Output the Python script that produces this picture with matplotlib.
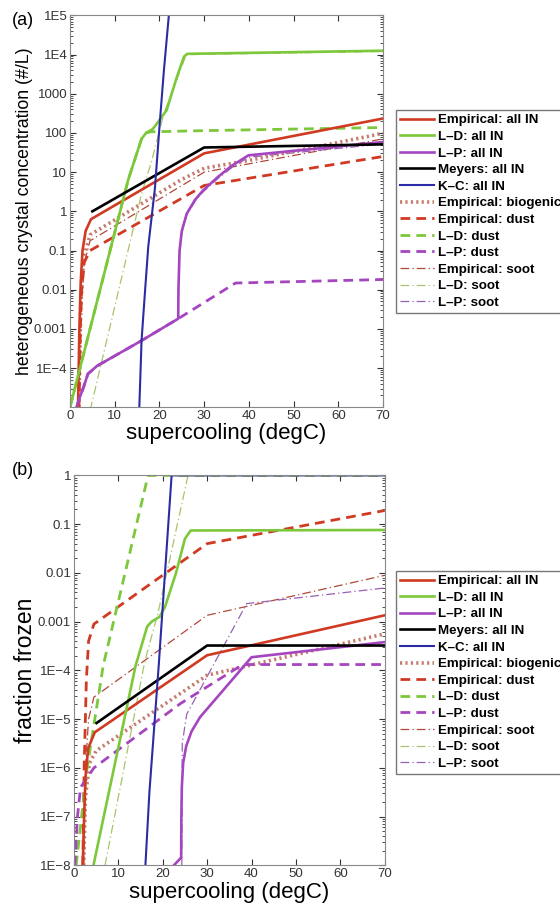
import matplotlib.pyplot as plt
import numpy as np
from matplotlib.ticker import LogLocator, NullFormatter, FixedLocator

plt.rcParams['font.family'] = ['Liberation Sans', 'DejaVu Sans']

## panel (a): ice crystal concentration, values stored as log10(#/L)
a_emp_all_x = [1.8, 2.1, 2.4, 2.8, 3.5, 4.7, 30, 70]
a_emp_all_y = [-5, -3, -1.8, -1.0, -0.5, -0.2, 1.48, 2.37]
a_ld_all_x = [0, 13, 16, 17, 18.5, 19.5, 21.6, 23.9, 25.5, 26.2, 70]
a_ld_all_y = [-5, 0.8, 1.85, 2.0, 2.1, 2.25, 2.58, 3.43, 3.95, 4.02, 4.1]
a_lp_all_x = [1.5, 2, 3, 4, 6, 16, 24.2, 24.25, 24.5, 25, 26.1, 28, 29.8, 33, 36, 39.9, 70]
a_lp_all_y = [-5, -4.8, -4.5, -4.15, -3.95, -3.3, -2.74, -2.0, -1.0, -0.5, -0.06, 0.3, 0.54, 0.87, 1.15, 1.43, 1.77]
a_mey_x = [5, 30, 70]
a_mey_y = [0.0, 1.63, 1.71]
a_kc_x = [15.5, 16.0, 16.8, 17.5, 19.0, 20.0, 21, 22.1]
a_kc_y = [-5, -3.3, -2, -0.9, 0.6, 2.15, 3.6, 5.0]
a_emp_bio_x = [2.0, 2.4, 3, 4.5, 24.6, 30, 40, 70]
a_emp_bio_y = [-5, -2.5, -1.2, -0.6, 0.79, 1.1, 1.3, 1.99]
a_emp_dust_x = [2.0, 2.3, 2.6, 3.2, 4.5, 30, 70]
a_emp_dust_y = [-5, -3, -2, -1.3, -1.0, 0.66, 1.40]
a_ld_dust_x = [0, 13, 16, 17, 18, 30, 70]
a_ld_dust_y = [-5, 0.8, 1.85, 2.0, 2.03, 2.06, 2.14]
a_lp_dust_x = [1.5, 2, 3, 4, 6, 16, 24.2, 37, 70]
a_lp_dust_y = [-5, -4.8, -4.5, -4.15, -3.95, -3.3, -2.74, -1.83, -1.74]
a_emp_soot_x = [2.1, 2.5, 3.2, 4.5, 30, 70]
a_emp_soot_y = [-5, -2.5, -1.3, -0.75, 1.0, 1.85]
a_ld_soot_x = [4.5, 16, 18.3, 21, 26, 70]
a_ld_soot_y = [-5.08, 0.45, 1.3, 2.5, 4.0, 4.08]
a_lp_soot_x = [24.2, 24.25, 24.5, 25, 26.1, 28, 29.8, 33, 36, 39.9, 70]
a_lp_soot_y = [-2.74, -2.1, -1.05, -0.55, -0.1, 0.27, 0.5, 0.83, 1.1, 1.38, 1.72]

## panel (b): fraction frozen, values stored as log10(fraction)
b_emp_all_x = [2.0, 2.3, 2.6, 3.2, 4.7, 30, 70]
b_emp_all_y = [-8, -7, -6.2, -5.6, -5.27, -3.69, -2.87]
b_ld_all_x = [4.4, 13.9, 16.5, 17.5, 19.3, 20.5, 23, 25, 26.3, 70]
b_ld_all_y = [-8, -3.9, -3.1, -3.0, -2.9, -2.7, -2.0, -1.3, -1.13, -1.12]
b_lp_all_x = [22, 24.15, 24.2, 24.3, 24.6, 25.3, 26.5, 28.4, 40, 70]
b_lp_all_y = [-8.05, -7.84, -7, -6.4, -5.9, -5.55, -5.25, -4.96, -3.73, -3.42]
b_mey_x = [5.1, 30, 70]
b_mey_y = [-5.08, -3.49, -3.49]
b_kc_x = [16.1, 17, 19.1, 22, 70]
b_kc_y = [-8, -6.5, -3.9, 0, 0]
b_emp_bio_x = [2.2, 2.6, 3.5, 5, 30, 70]
b_emp_bio_y = [-8, -6.6, -5.9, -5.65, -4.1, -3.25]
b_emp_dust_x = [2.0, 2.3, 2.8, 3.3, 4.5, 30, 70]
b_emp_dust_y = [-8, -6, -4.2, -3.4, -3.05, -1.40, -0.72]
b_ld_dust_x = [0.5, 2.9, 6.6, 16.7, 70]
b_ld_dust_y = [-8, -6.05, -3.9, 0, 0]
b_lp_dust_x = [0.2, 0.8, 1.5, 4.5, 24, 38, 70]
b_lp_dust_y = [-8, -7, -6.4, -6.0, -4.68, -3.88, -3.88]
b_emp_soot_x = [2.2, 2.6, 3.3, 4.5, 30, 70]
b_emp_soot_y = [-8, -6, -5, -4.55, -2.87, -2.05]
b_ld_soot_x = [7, 16, 19, 25.7, 70]
b_ld_soot_y = [-8, -3.8, -2.8, 0, 0]
b_lp_soot_x = [24.3, 24.4, 25.4, 38.9, 70]
b_lp_soot_y = [-8, -5.5, -4.9, -2.63, -2.31]

labels = ['Empirical: all IN', 'L\u2013D: all IN', 'L\u2013P: all IN', 'Meyers: all IN',
          'K\u2013C: all IN', 'Empirical: biogenic', 'Empirical: dust', 'L\u2013D: dust',
          'L\u2013P: dust', 'Empirical: soot', 'L\u2013D: soot', 'L\u2013P: soot']

red = '#d03a22'
green = '#7cc83a'
purple = '#a545c0'
blue = '#2b2ba6'
styles = [
    dict(color=red, lw=1.9, ls='-'),
    dict(color=green, lw=1.9, ls='-'),
    dict(color=purple, lw=1.9, ls='-'),
    dict(color='black', lw=1.9, ls='-'),
    dict(color=blue, lw=1.5, ls='-'),
    dict(color='#c77a6e', lw=2.6, ls=(0, (0.6, 0.9))),
    dict(color=red, lw=2.0, ls=(0, (3.5, 2.2))),
    dict(color=green, lw=2.0, ls=(0, (3.5, 2.2))),
    dict(color=purple, lw=2.0, ls=(0, (3.5, 2.2))),
    dict(color='#b0483a', lw=0.9, ls=(0, (7, 2.5, 1, 2.5))),
    dict(color='#a8c46a', lw=0.9, ls=(0, (7, 2.5, 1, 2.5))),
    dict(color='#9560b5', lw=0.9, ls=(0, (7, 2.5, 1, 2.5))),
]

series_a = [(a_emp_all_x, a_emp_all_y), (a_ld_all_x, a_ld_all_y), (a_lp_all_x, a_lp_all_y),
            (a_mey_x, a_mey_y), (a_kc_x, a_kc_y), (a_emp_bio_x, a_emp_bio_y),
            (a_emp_dust_x, a_emp_dust_y), (a_ld_dust_x, a_ld_dust_y), (a_lp_dust_x, a_lp_dust_y),
            (a_emp_soot_x, a_emp_soot_y), (a_ld_soot_x, a_ld_soot_y), (a_lp_soot_x, a_lp_soot_y)]
series_b = [(b_emp_all_x, b_emp_all_y), (b_ld_all_x, b_ld_all_y), (b_lp_all_x, b_lp_all_y),
            (b_mey_x, b_mey_y), (b_kc_x, b_kc_y), (b_emp_bio_x, b_emp_bio_y),
            (b_emp_dust_x, b_emp_dust_y), (b_ld_dust_x, b_ld_dust_y), (b_lp_dust_x, b_lp_dust_y),
            (b_emp_soot_x, b_emp_soot_y), (b_ld_soot_x, b_ld_soot_y), (b_lp_soot_x, b_lp_soot_y)]

# draw order: thin/dashed first, solid on top
order = [9, 10, 11, 5, 6, 7, 8, 0, 1, 2, 3, 4]

a_ticks = [1e-4, 1e-3, 1e-2, 1e-1, 1, 10, 100, 1000, 1e4, 1e5]
a_ticklabels = ['1E\u22124', '0.001', '0.01', '0.1', '1', '10', '100', '1000', '1E4', '1E5']
b_ticks = [1e-8, 1e-7, 1e-6, 1e-5, 1e-4, 1e-3, 1e-2, 1e-1, 1]
b_ticklabels = ['1E\u22128', '1E\u22127', '1E\u22126', '1E\u22125', '1E\u22124', '0.001', '0.01', '0.1', '1']

fig = plt.figure(figsize=(5.6, 9.09), dpi=100)
ax1 = fig.add_axes([0.125, 0.552, 0.559, 0.431])
ax2 = fig.add_axes([0.132, 0.048, 0.555, 0.429])


def setup(ax, ylim, ticks, ticklabels, ylabel):
    ax.set_yscale('log')
    ax.set_xlim(0, 70)
    ax.set_ylim(*ylim)
    ax.yaxis.set_major_locator(FixedLocator(ticks))
    ax.set_yticklabels(ticklabels)
    ax.yaxis.set_minor_locator(LogLocator(base=10, subs=np.arange(2, 10), numticks=20))
    ax.yaxis.set_minor_formatter(NullFormatter())
    ax.set_xticks([0, 10, 20, 30, 40, 50, 60, 70])
    ax.tick_params(which='both', direction='in', top=True, right=True, labelsize=9.5,
                   colors='#333333', pad=2)
    ax.tick_params(which='major', length=4)
    ax.tick_params(which='minor', length=2)
    for s in ax.spines.values():
        s.set_color('#888888')
        s.set_linewidth(0.8)
    ax.set_xlabel('supercooling (degC)', fontsize=16, labelpad=1)
    ax.set_ylabel(ylabel, labelpad=1)


handles = [None] * 12
for k in order:
    x, y = series_a[k]
    h, = ax1.plot(x, 10 ** np.array(y), label=labels[k], **styles[k])
    handles[k] = h
for k in order:
    x, y = series_b[k]
    ax2.plot(x, 10 ** np.array(y), label=labels[k], **styles[k])

setup(ax1, (1e-5, 1e5), a_ticks, a_ticklabels, 'heterogeneous crystal concentration (#/L)')
ax1.yaxis.label.set_size(12.8)
setup(ax2, (1e-8, 1), b_ticks, b_ticklabels, 'fraction frozen')
ax2.yaxis.label.set_size(16.5)

fig.text(0.022, 0.972, '(a)', fontsize=13)
fig.text(0.022, 0.477, '(b)', fontsize=13)

for ypos in [0.879, 0.372]:
    fig.legend(handles, labels, loc='upper left', bbox_to_anchor=(0.708, ypos),
               prop={'weight': 'bold', 'size': 9.6}, frameon=True, fancybox=False,
               edgecolor='#555555', handlelength=2.5, handletextpad=0.35,
               labelspacing=0.32, borderpad=0.3, borderaxespad=0)

fig.savefig('out.png', dpi=100)
